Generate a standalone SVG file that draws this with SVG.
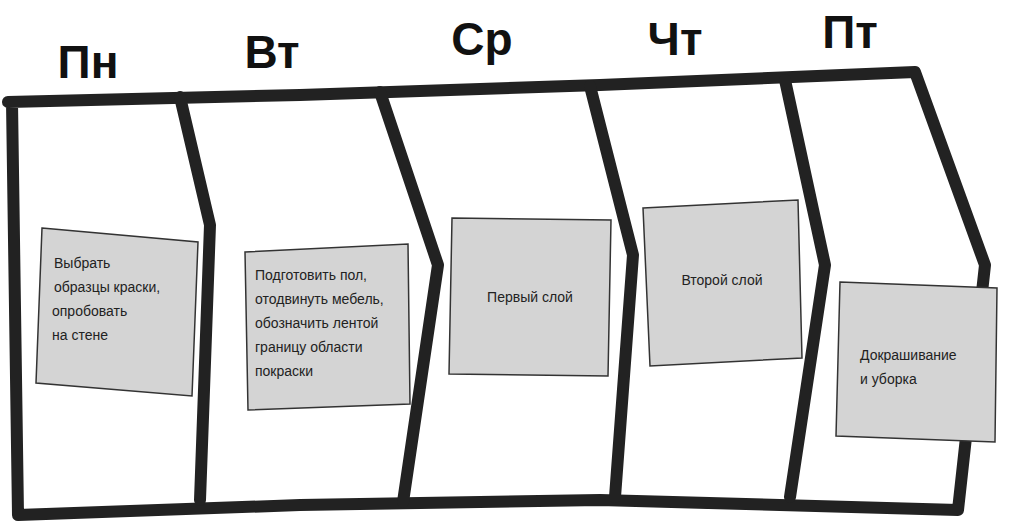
<svg xmlns="http://www.w3.org/2000/svg" width="1010" height="528" viewBox="0 0 1010 528">
<style>
.ln{fill:none;stroke:#222;stroke-width:12;stroke-linejoin:round;stroke-linecap:round}
.card{fill:#d4d4d4;stroke:#333;stroke-width:1.5}
.h{font-family:"Liberation Sans",sans-serif;font-weight:bold;font-size:46px;fill:#111;text-anchor:middle}
.t{font-family:"Liberation Sans Narrow","Liberation Sans",sans-serif;font-size:14px;fill:#222}
</style>
<rect width="1010" height="528" fill="#fff"/>
<g id="headers">
<text class="h" x="88" y="78">Пн</text>
<text class="h" x="272" y="68">Вт</text>
<text class="h" x="482" y="55">Ср</text>
<text class="h" x="675" y="55">Чт</text>
<text class="h" x="850" y="48">Пт</text>
</g>
<g id="connectors">
<path class="ln" d="M8,102 L300,95 L600,85 L915,72 L985,265 L958,510 L600,500 L300,505 L18,515 L12,102"/>
<path class="ln" d="M180,97 L210,225 L200,500"/>
<path class="ln" d="M380,92 L438,265 L403,502"/>
<path class="ln" d="M590,86 L633,255 L615,497"/>
<path class="ln" d="M785,80 L825,265 L790,497"/>
</g>
<g id="card1"><polygon class="card" points="42,228 198,242 192,396 36,383"/>
<text class="t" x="54" y="268">Выбрать</text><text class="t" x="54" y="292">образцы краски,</text><text class="t" x="52" y="316">опробовать</text><text class="t" x="52" y="340">на стене</text></g>
<g id="card2"><polygon class="card" points="245,252 408,244 410,404 248,410"/>
<text class="t" x="255" y="280">Подготовить пол,</text><text class="t" x="255" y="304">отодвинуть мебель,</text><text class="t" x="255" y="328">обозначить лентой</text><text class="t" x="255" y="352">границу области</text><text class="t" x="255" y="376">покраски</text></g>
<g id="card3"><polygon class="card" points="452,218 611,220 608,376 449,374"/>
<text class="t" x="530" y="302" text-anchor="middle">Первый слой</text></g>
<g id="card4"><polygon class="card" points="643,208 798,200 802,358 650,366"/>
<text class="t" x="722" y="285" text-anchor="middle">Второй слой</text></g>
<g id="card5"><polygon class="card" points="840,282 997,288 995,442 836,436"/>
<text class="t" x="860" y="360">Докрашивание</text><text class="t" x="860" y="384">и уборка</text></g>
</svg>
